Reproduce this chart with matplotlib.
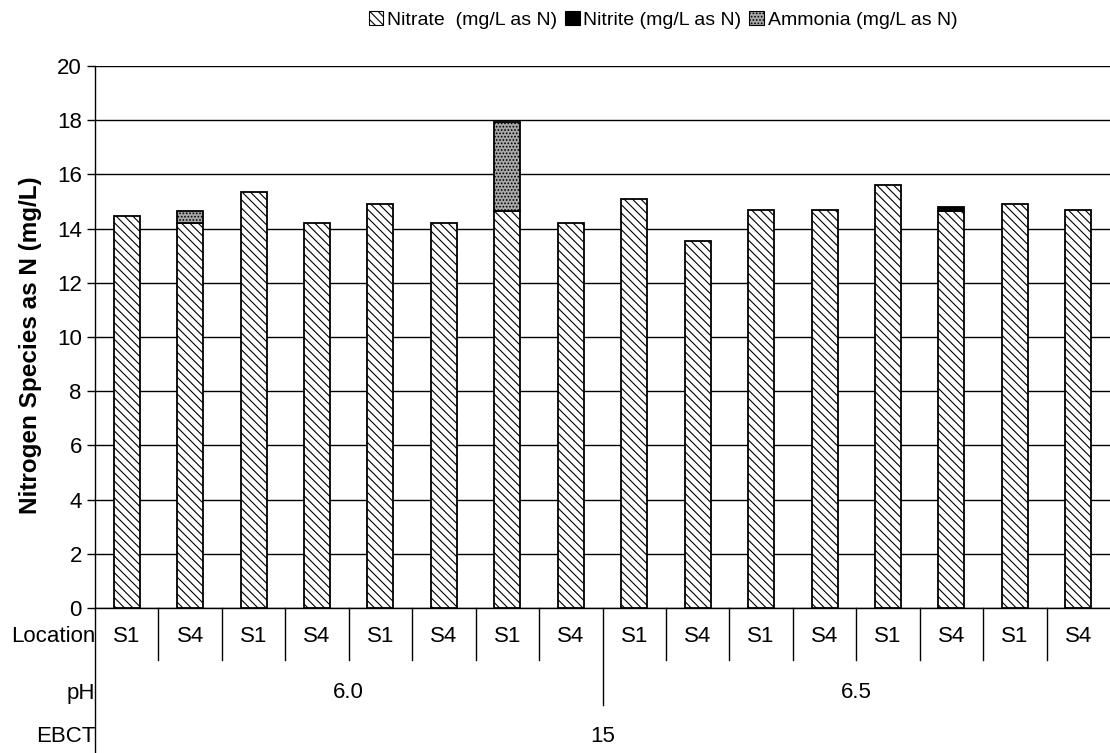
import matplotlib.pyplot as plt
import matplotlib.transforms as mtransforms
from matplotlib.patches import Patch
import numpy as np

plt.rcParams['font.family'] = ['Liberation Sans', 'DejaVu Sans']
plt.rcParams['hatch.linewidth'] = 0.8

locations = ['S1', 'S4'] * 8
ph_groups = ['6.0', '6.5']
ebct = '15'

nitrate = [14.45, 14.2, 15.35, 14.2, 14.9, 14.2, 14.65, 14.2,
           15.1, 13.55, 14.7, 14.7, 15.6, 14.65, 14.9, 14.7]
nitrite = [0, 0, 0, 0, 0, 0, 0, 0,
           0, 0, 0, 0, 0, 0.15, 0, 0]
ammonia = [0, 0.45, 0, 0, 0, 0, 3.3, 0,
           0, 0, 0, 0, 0, 0, 0, 0]

W, H = 1110, 753
fig = plt.figure(figsize=(W / 100, H / 100), dpi=100)
ax = fig.add_axes([95 / W, 1 - 608 / H, 1 - 95 / W, (608 - 66) / H])

x = np.arange(len(locations))
bw = 0.41
nitrate = np.array(nitrate)
nitrite = np.array(nitrite)
ammonia = np.array(ammonia)

nitrate_style = dict(facecolor='white', edgecolor='black', hatch='\\\\\\\\')
nitrite_style = dict(facecolor='black', edgecolor='black')
ammonia_style = dict(facecolor='#a8a8a8', edgecolor='black', hatch='.....')

ax.bar(x, nitrate, bw, linewidth=1.3, zorder=3, **nitrate_style)
b2 = ax.bar(x, nitrite, bw, bottom=nitrate, linewidth=1.3, zorder=3,
            **nitrite_style)
b3 = ax.bar(x, ammonia, bw, bottom=nitrate + nitrite, linewidth=1.3, zorder=3,
            **ammonia_style)
# hide zero-height segments
for b in list(b2) + list(b3):
    if b.get_height() == 0:
        b.set_visible(False)

ax.set_xlim(-0.5, len(locations) - 0.5)
ax.set_ylim(0, 20)
ax.set_yticks(range(0, 21, 2))
ax.tick_params(axis='y', labelsize=16, direction='out', length=6, width=1)
ax.set_xticks([])
ax.grid(axis='y', color='black', linewidth=1)
for s in ['top', 'right']:
    ax.spines[s].set_visible(False)
ax.spines['left'].set_linewidth(1)
ax.spines['bottom'].set_linewidth(1)
ax.set_ylabel('Nitrogen Species as N (mg/L)', fontsize=17.5, fontweight='bold')
ax.yaxis.set_label_coords(-0.052, 0.485)

# category table under the axis
trans = mtransforms.blended_transform_factory(ax.transData, fig.transFigure)
y_loc = 1 - 637 / H
y_ph = 1 - 693 / H
y_eb = 1 - 737 / H
y0 = 1 - 608 / H
y_row1 = 1 - 660 / H
y_row2 = 1 - 705 / H

for i, lab in enumerate(locations):
    ax.text(i, y_loc, lab, transform=trans, ha='center', va='center', fontsize=16)
for i in range(1, len(locations)):
    yb = y_row2 if i == 8 else y_row1
    ax.plot([i - 0.5, i - 0.5], [y0, yb], transform=trans, color='black',
            linewidth=1, clip_on=False)
ax.plot([-0.5, -0.5], [y0, 0], transform=trans, color='black',
        linewidth=1, clip_on=False)

for g, lab in enumerate(ph_groups):
    ax.text(g * 8 + 3.5, y_ph, lab, transform=trans, ha='center', va='center',
            fontsize=16)
ax.text(7.5, y_eb, ebct, transform=trans, ha='center', va='center', fontsize=16)

for lab, yy in [('Location', y_loc), ('pH', y_ph), ('EBCT', y_eb)]:
    fig.text(95 / W, yy, lab, ha='right', va='center', fontsize=16)

handles = [Patch(linewidth=0.8, **nitrate_style, label='Nitrate  (mg/L as N)'),
           Patch(linewidth=0.8, **nitrite_style, label='Nitrite (mg/L as N)'),
           Patch(linewidth=0.8, **ammonia_style, label='Ammonia (mg/L as N)')]
fig.legend(handles=handles, loc='center', ncol=3,
           bbox_to_anchor=(663 / W, 1 - 20 / H), frameon=False, fontsize=14,
           handlelength=0.75, handleheight=0.75, handletextpad=0.2,
           columnspacing=0.4)

fig.savefig('out.png', dpi=100)
